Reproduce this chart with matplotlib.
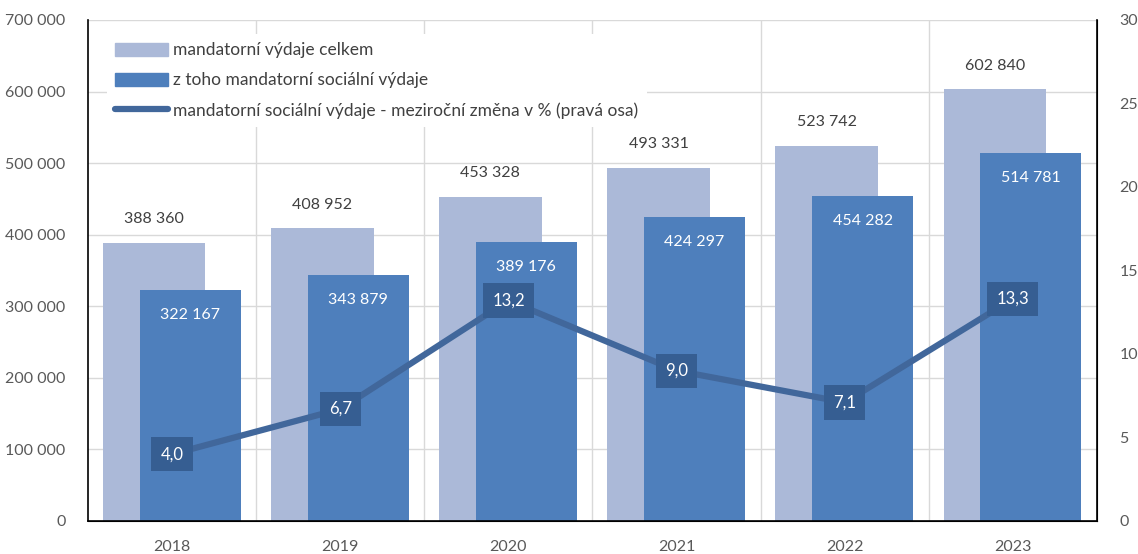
import numpy as np
import matplotlib
matplotlib.use("Agg")
import matplotlib.pyplot as plt
from matplotlib.patches import Patch
from matplotlib.lines import Line2D

plt.rcParams['font.family'] = ['Lato', 'DejaVu Sans']

years = ["2018", "2019", "2020", "2021", "2022", "2023"]
total = [388360, 408952, 453328, 493331, 523742, 602840]
social = [322167, 343879, 389176, 424297, 454282, 514781]
change = [4.0, 6.7, 13.2, 9.0, 7.1, 13.3]

labels = ["mandatorní výdaje celkem",
          "z toho mandatorní sociální výdaje",
          "mandatorní sociální výdaje - meziroční změna v % (pravá osa)"]

c_light = "#ABB9D8"
c_dark = "#4E7FBC"
c_line = "#41679B"
c_box = "#365E92"
c_text = "#595959"

def fmt(v):
    return f"{v:,}".replace(",", " ")

fig = plt.figure(figsize=(11.38, 5.54), dpi=100)
ax = fig.add_axes([0.0773, 0.0596, 0.8867, 0.9044])
x = np.arange(len(years))

ax.bar(x - 0.107, total, width=0.61, color=c_light, zorder=2)
ax.bar(x + 0.107, social, width=0.60, color=c_dark, zorder=3)

for i in range(len(years)):
    ax.annotate(fmt(total[i]), (x[i] - 0.107, total[i]), xytext=(0, 17),
                textcoords="offset points", ha="center", va="center",
                fontsize=11.5, color="#404040", zorder=5)
    ax.annotate(fmt(social[i]), (x[i] + 0.107, social[i]), xytext=(0, -18),
                textcoords="offset points", ha="center", va="center",
                fontsize=11.5, color="white", zorder=5)

ax.set_xlim(-0.5, 5.5)
ax.set_ylim(0, 700000)
ax.set_yticks(np.arange(0, 700001, 100000))
ax.set_yticklabels([fmt(v) for v in range(0, 700001, 100000)])
ax.set_xticks(x)
ax.set_xticklabels(years)
ax.set_xticks(np.arange(0.5, 5.5, 1), minor=True)
ax.tick_params(axis="x", which="both", length=0, labelsize=11.5,
               labelcolor=c_text, pad=14)
ax.tick_params(axis="y", length=0, labelsize=11.5, labelcolor=c_text, pad=16)
ax.grid(axis="y", color="#D9D9D9", linewidth=1, zorder=0)
ax.grid(axis="x", which="minor", color="#D9D9D9", linewidth=1, zorder=0)
ax.set_axisbelow(True)
ax.spines["top"].set_visible(False)
ax.spines["left"].set_color("black")
ax.spines["left"].set_linewidth(1.2)

ax2 = ax.twinx()
ax2.plot(x, change, color=c_line, linewidth=4.5, solid_capstyle="round", zorder=4)
for i in range(len(years)):
    ax2.text(x[i], change[i], f"{change[i]:.1f}".replace(".", ","),
             ha="center", va="center", fontsize=12, color="white", zorder=6,
             bbox=dict(boxstyle="square,pad=0.55", facecolor=c_box, edgecolor="none"))
ax2.set_ylim(0, 30)
ax2.set_yticks(range(0, 31, 5))
ax2.tick_params(axis="y", length=0, labelsize=11.5, labelcolor=c_text, pad=16)
ax2.spines["top"].set_visible(False)
ax2.spines["left"].set_visible(False)
for s in ["right", "bottom"]:
    ax2.spines[s].set_color("black")
    ax2.spines[s].set_linewidth(1.2)

handles = [Patch(color=c_light), Patch(color=c_dark),
           Line2D([0], [0], color=c_line, linewidth=4.5, solid_capstyle="round")]
leg = ax2.legend(handles, labels, loc="upper left", bbox_to_anchor=(0.01, 0.99),
                 frameon=True, facecolor="white", edgecolor="none", framealpha=1,
                 fancybox=False, fontsize=12.5, handlelength=3.0, handleheight=0.8,
                 handletextpad=0.3, labelspacing=0.8, borderpad=0.5)
for t in leg.get_texts():
    t.set_color("#404040")
leg.set_zorder(10)

fig.savefig("out.png", dpi=100)
